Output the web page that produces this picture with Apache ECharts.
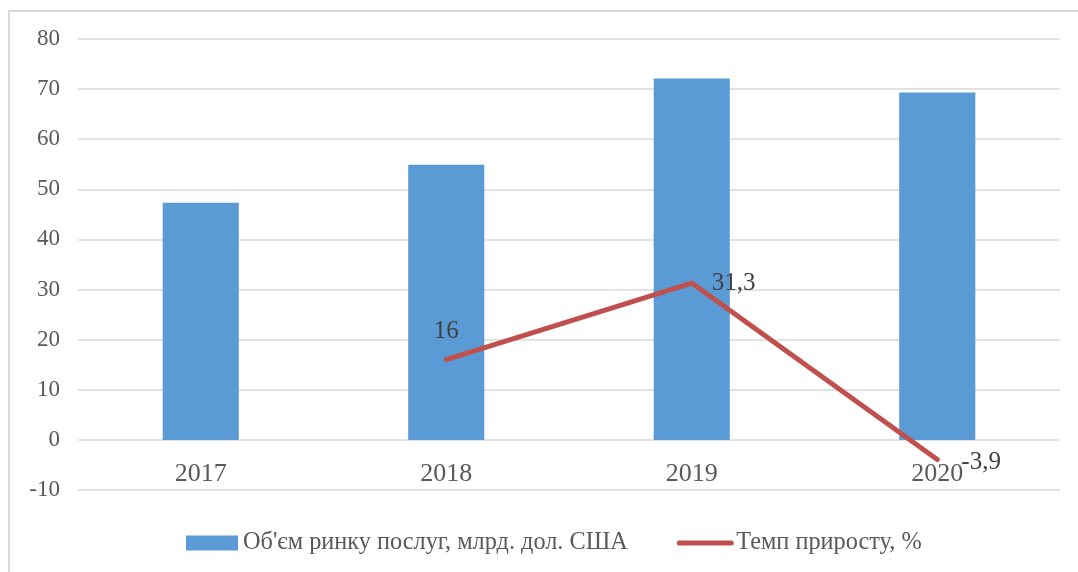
<!DOCTYPE html>
<html>
<head>
<meta charset="utf-8">
<script src="https://cdn.jsdelivr.net/npm/echarts@6/dist/echarts.min.js"></script>
<style>
  html, body { margin: 0; padding: 0; background: #fff; }
  #frame { position: absolute; left: 8px; top: 10px; width: 1100px; height: 600px;
           border-left: 2px solid #d9d9d9; border-top: 2px solid #d9d9d9; }
  #chart { position: absolute; left: 0; top: 0; width: 1078px; height: 572px; }
</style>
</head>
<body>
<div id="frame"></div>
<div id="chart"></div>
<script>
// years on the x axis
const years = ['2017', '2018', '2019', '2020'];
// market volume, bn USD (bars)
const marketVolume = [47.3, 54.9, 72.1, 69.3];
// growth rate, % (line); no value for 2017
const growthRate = [null, 16, 31.3, -3.9];
// y axis range
const yMin = -10, yMax = 80, yStep = 10;

const seriesNames = ['Об\'єм ринку послуг, млрд. дол. США', 'Темп приросту, %'];
const labelPlace = [null, { position: 'top', distance: 16 }, { position: 'right', distance: 20 }, { position: 'right', distance: 24, offset: [0, 3] }];

const font = '"Liberation Serif", "Times New Roman", serif';
const textColor = '#595959';

const lineData = growthRate.map((v, i) => {
    if (v === null) return '-';
    return { value: v, label: labelPlace[i] };
});

const chart = echarts.init(document.getElementById('chart'), null, { renderer: 'canvas' });
chart.setOption({
    animation: false,
    backgroundColor: 'transparent',
    grid: { left: 78, right: 18, top: 39, bottom: 82 },
    legend: {
        bottom: 12,
        left: 181,
        itemGap: 49,
        itemWidth: 52,
        itemHeight: 15,
        textStyle: { fontFamily: font, fontSize: 24.3, color: textColor, padding: [0, 0, 0, 0] },
        data: [
            { name: seriesNames[0], icon: 'rect' },
            {
                name: seriesNames[1],
                itemStyle: { color: 'rgba(0,0,0,0)', borderWidth: 0 },
                lineStyle: { color: '#c0504d', width: 5, cap: 'round' }
            }
        ]
    },
    xAxis: {
        type: 'category',
        data: years,
        axisLine: { show: false },
        axisTick: { show: false },
        axisLabel: { fontFamily: font, fontSize: 26, color: textColor, margin: -29 }
    },
    yAxis: {
        type: 'value',
        min: yMin,
        max: yMax,
        interval: yStep,
        axisLine: { show: false },
        axisTick: { show: false },
        axisLabel: { fontFamily: font, fontSize: 23, color: textColor, margin: 18 },
        splitLine: { lineStyle: { color: '#d9d9d9', width: 1.5 } }
    },
    series: [
        {
            name: seriesNames[0],
            type: 'bar',
            data: marketVolume,
            barWidth: '31%',
            itemStyle: { color: '#5b9bd5' }
        },
        {
            name: seriesNames[1],
            type: 'line',
            data: lineData,
            symbol: 'circle',
            symbolSize: 0.1,
            connectNulls: false,
            itemStyle: { color: '#c0504d' },
            lineStyle: { color: '#c0504d', width: 5, cap: 'round', join: 'round' },
            label: {
                show: true,
                fontFamily: font,
                fontSize: 25,
                color: '#404040',
                formatter: p => String(p.value).replace('.', ',')
            }
        }
    ]
});
</script>
</body>
</html>
